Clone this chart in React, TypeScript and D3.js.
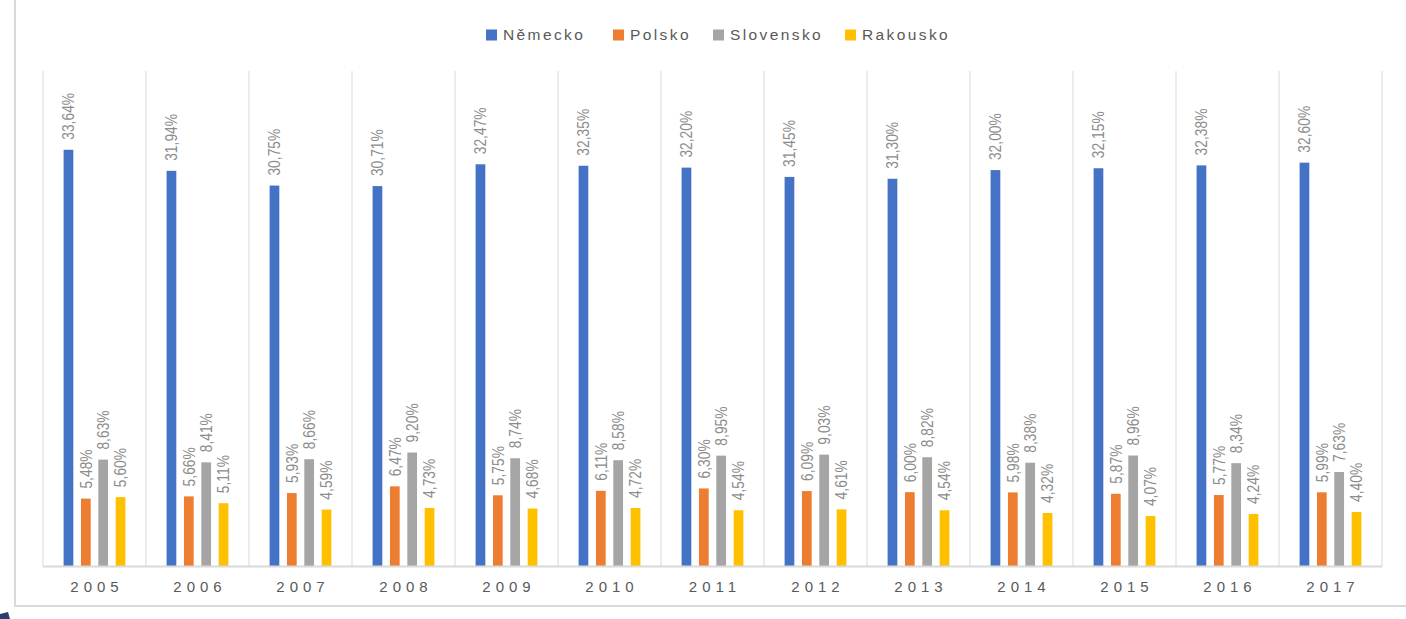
import React, { useRef, useEffect } from "react";
import * as d3 from "d3";

// years on the x axis
const years = ["2005", "2006", "2007", "2008", "2009", "2010", "2011", "2012", "2013", "2014", "2015", "2016", "2017"];
const seriesNames = ["Německo", "Polsko", "Slovensko", "Rakousko"];
const seriesColors = ["#4472C4", "#ED7D31", "#A5A5A5", "#FFC000"];

// shares in %
const nemecko = [33.64, 31.94, 30.75, 30.71, 32.47, 32.35, 32.2, 31.45, 31.3, 32.0, 32.15, 32.38, 32.6];
const polsko = [5.48, 5.66, 5.93, 6.47, 5.75, 6.11, 6.3, 6.09, 6.0, 5.98, 5.87, 5.77, 5.99];
const slovensko = [8.63, 8.41, 8.66, 9.2, 8.74, 8.58, 8.95, 9.03, 8.82, 8.38, 8.96, 8.34, 7.63];
const rakousko = [5.6, 5.11, 4.59, 4.73, 4.68, 4.72, 4.54, 4.61, 4.54, 4.32, 4.07, 4.24, 4.4];

const W = 1406;
const H = 619;

const App = () => {
  const svgRef = useRef<SVGSVGElement | null>(null);

  useEffect(() => {
    const svg = d3.select(svgRef.current);
    svg.selectAll("*").remove();

    const values = [nemecko, polsko, slovensko, rakousko];
    const rows = years.map((y, i) => ({
      year: y,
      vals: seriesNames.map((s, j) => ({ key: s, value: values[j][i], color: seriesColors[j] })),
    }));

    // chart frame
    svg
      .append("rect")
      .attr("x", 15)
      .attr("y", -10)
      .attr("width", W + 20)
      .attr("height", 616)
      .attr("fill", "#fff")
      .attr("stroke", "#d9d9d9")
      .attr("stroke-width", 2);

    // little dark corner of the slide behind
    svg.append("path").attr("d", "M0,614 L8,612 L10,619 L0,619 Z").attr("fill", "#2f3d6b");

    const plot = { left: 43, right: 1382, top: 71, bottom: 566.5 };

    const x0 = d3
      .scaleBand()
      .domain(years)
      .range([plot.left, plot.right])
      .paddingInner(0.4)
      .paddingOuter(0.2);
    const x1 = d3.scaleBand().domain(seriesNames).range([0, x0.bandwidth()]).paddingInner(0.44);
    const y = d3.scaleLinear().domain([0, 40]).range([plot.bottom, plot.top]);

    // vertical gridlines between categories
    const step = x0.step();
    const g = svg.append("g");
    d3.range(years.length + 1).forEach((i) => {
      const gx = plot.left + i * step;
      g.append("line")
        .attr("x1", gx)
        .attr("x2", gx)
        .attr("y1", plot.top)
        .attr("y2", plot.bottom)
        .attr("stroke", "#d9d9d9")
        .attr("stroke-width", 1);
    });

    // bars
    const groups = svg
      .selectAll("g.year")
      .data(rows)
      .enter()
      .append("g")
      .attr("class", "year")
      .attr("transform", (d) => "translate(" + x0(d.year) + ",0)");

    groups
      .selectAll("rect")
      .data((d) => d.vals)
      .enter()
      .append("rect")
      .attr("x", (d) => x1(d.key)!)
      .attr("y", (d) => y(d.value))
      .attr("width", x1.bandwidth())
      .attr("height", (d) => y(0) - y(d.value))
      .attr("fill", (d) => d.color);

    // rotated data labels (condensed like the original narrow font)
    groups
      .selectAll("text")
      .data((d) => d.vals)
      .enter()
      .append("text")
      .attr(
        "transform",
        (d) =>
          "translate(" + (x1(d.key)! + x1.bandwidth() / 2) + "," + (y(d.value) - 10) + ") rotate(-90) scale(0.84,1)"
      )
      .attr("dy", "0.35em")
      .attr("text-anchor", "start")
      .style("font-family", "'Liberation Sans', Arial, sans-serif")
      .style("font-size", "16.5px")
      .style("fill", "#8c8c8c")
      .text((d) => d.value.toFixed(2).replace(".", ",") + "%");

    // baseline axis
    svg
      .append("line")
      .attr("x1", plot.left)
      .attr("x2", plot.right)
      .attr("y1", plot.bottom)
      .attr("y2", plot.bottom)
      .attr("stroke", "#d9d9d9")
      .attr("stroke-width", 2);

    // x axis labels
    const ls = 5;
    svg
      .append("g")
      .selectAll("text")
      .data(years)
      .enter()
      .append("text")
      .attr("x", (d) => x0(d)! + x0.bandwidth() / 2 + ls / 2)
      .attr("y", 592)
      .attr("text-anchor", "middle")
      .style("font-family", "'Liberation Sans', Arial, sans-serif")
      .style("font-size", "15px")
      .style("letter-spacing", ls + "px")
      .style("fill", "#595959")
      .text((d) => d);

    // legend
    const legendX = [486, 613, 713, 845];
    const legend = svg
      .append("g")
      .selectAll("g")
      .data(seriesNames)
      .enter()
      .append("g")
      .attr("transform", (d, i) => "translate(" + legendX[i] + ",35)");
    legend
      .append("rect")
      .attr("x", 0)
      .attr("y", -5.5)
      .attr("width", 11)
      .attr("height", 11)
      .attr("fill", (d, i) => seriesColors[i]);
    legend
      .append("text")
      .attr("x", 17)
      .attr("dy", "0.35em")
      .style("font-family", "'Liberation Sans', Arial, sans-serif")
      .style("font-size", "15.5px")
      .style("letter-spacing", "2.4px")
      .style("fill", "#595959")
      .text((d) => d);
  }, []);

  return (
    <svg
      ref={svgRef}
      width={W}
      height={H}
      style={{ position: "absolute", left: 0, top: 0, background: "#fff" }}
    ></svg>
  );
};

export default App;
